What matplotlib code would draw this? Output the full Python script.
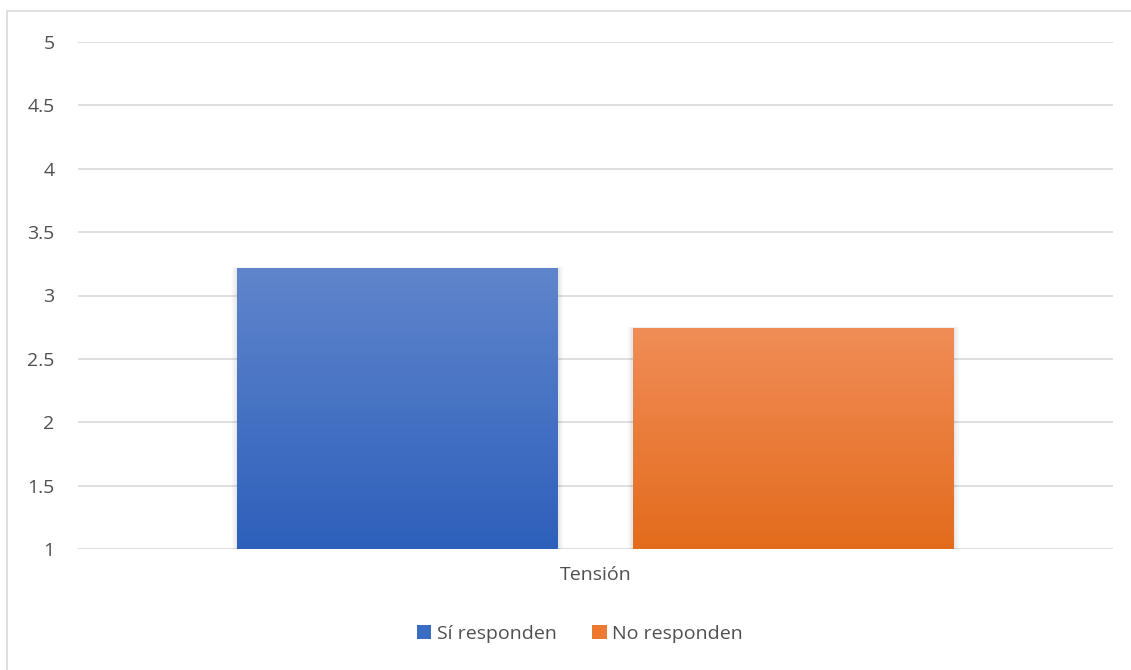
import numpy as np
import matplotlib
matplotlib.use("Agg")
import matplotlib.pyplot as plt
from matplotlib.colors import LinearSegmentedColormap
from matplotlib.patches import Rectangle, Patch

plt.rcParams['font.family'] = ['Open Sans', 'DejaVu Sans']

category = "Tensión"
series = ["Sí responden", "No responden"]
values = [3.21, 2.74]
yticks = [1, 1.5, 2, 2.5, 3, 3.5, 4, 4.5, 5]

# top, bottom colour of each bar's gradient
grad_colors = [("#6085cc", "#2d60bb"), ("#f08d57", "#e36b1c")]
legend_colors = ["#3a6cc4", "#ec7a30"]

text_col = "#505050"
grid_col = "#d9d9d9"

fig = plt.figure(figsize=(11.31, 6.70), dpi=100)
ax = fig.add_axes([78 / 1131, 1 - 549 / 670, (1113 - 78) / 1131, (549 - 42) / 670])

# chart frame
fig.patches.append(Rectangle((7 / 1131, -0.05), 1.1, 1 - 11 / 670 + 0.05,
                             transform=fig.transFigure, fill=False,
                             edgecolor=grid_col, linewidth=1.2, zorder=0))

ymin = 1
width = 0.31
gap = 0.0725
offsets = [-(width + gap) / 2, (width + gap) / 2]

for off, val, (c_top, c_bot) in zip(offsets, values, grad_colors):
    x0 = off - width / 2
    cmap = LinearSegmentedColormap.from_list("g", [c_bot, c_top])
    grad = np.linspace(0, 1, 256).reshape(-1, 1)
    # soft shadow
    for k in range(3):
        ax.add_patch(Rectangle((x0 - 0.0015 * (k + 1), ymin),
                               width + 0.003 * (k + 1), val - ymin + 0.005 * (k + 1),
                               facecolor="black", alpha=0.03, edgecolor="none", zorder=2))
    ax.imshow(grad, cmap=cmap, origin="lower", aspect="auto",
              extent=(x0, x0 + width, ymin, val), zorder=3)

ax.set_xlim(-0.5, 0.5)
ax.set_ylim(1, 5)
ax.set_yticks(yticks)
ax.set_yticklabels([f"{t:g}" for t in yticks])
ax.set_xticks([0])
ax.set_xticklabels([category])
ax.tick_params(axis="both", length=0, labelsize=14, colors=text_col)
ax.tick_params(axis="y", pad=17)
ax.tick_params(axis="x", pad=12)
ax.grid(axis="y", color=grid_col, linewidth=1.2, zorder=0)
ax.set_axisbelow(True)
for s in ax.spines.values():
    s.set_visible(False)

handles = [Patch(facecolor=c, edgecolor="none") for c in legend_colors]
fig.legend(handles, series, loc="center", bbox_to_anchor=(580 / 1131, 1 - 634 / 670),
           ncol=2, frameon=False, fontsize=14, labelcolor=text_col,
           handlelength=0.75, handleheight=0.75, handletextpad=0.3, columnspacing=1.8)

fig.savefig("out.png", dpi=100, facecolor="white")
